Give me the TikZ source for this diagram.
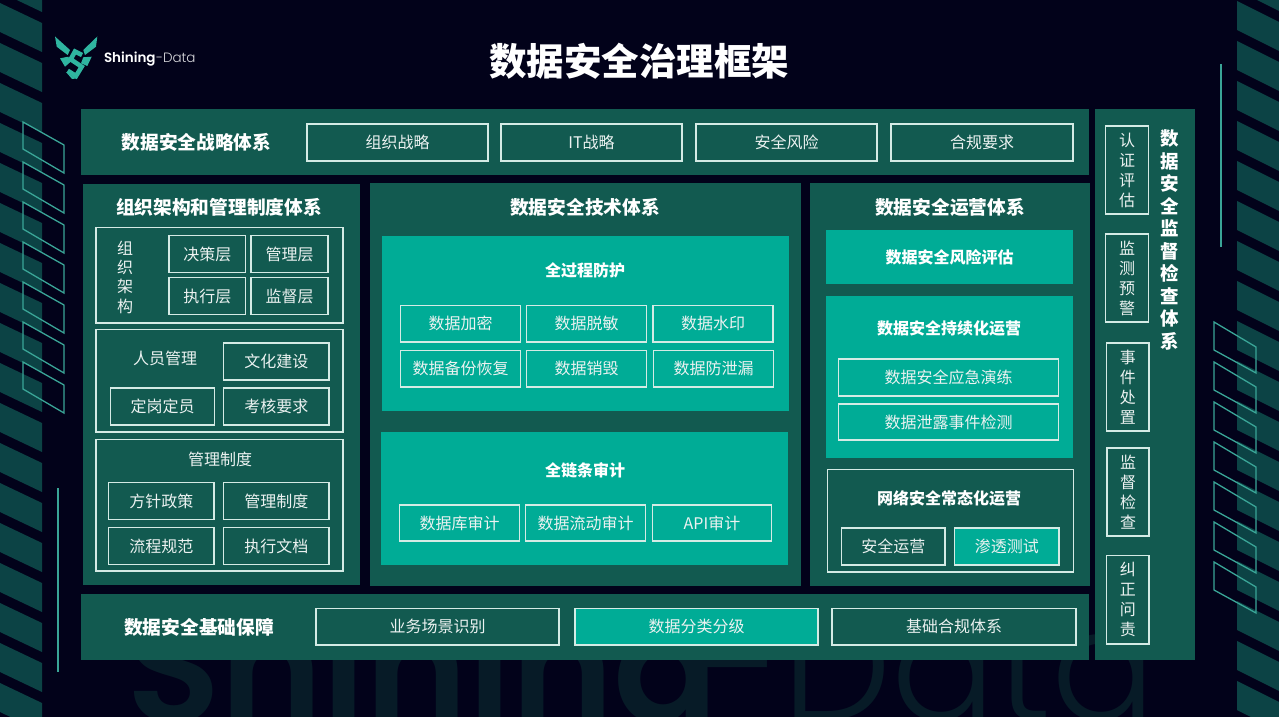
\documentclass[tikz,border=0pt]{standalone}
\usepackage{fontspec}
\setmainfont{Noto Sans CJK SC}
\newfontfamily\popfont{Poppins Light}
\newfontfamily\popsemi{Poppins SemiBold}
\definecolor{bgc}{HTML}{02021A}
\definecolor{panelc}{HTML}{125A50}
\definecolor{tealc}{HTML}{00AC96}
\definecolor{stripec}{HTML}{0C4345}
\definecolor{linec}{HTML}{3AA597}
\definecolor{edgec}{HTML}{D4EBE5}
\definecolor{markc}{HTML}{071B27}
\definecolor{logoc}{HTML}{2FB5A0}
\tikzset{
  x=1pt,y=-1pt,
  every node/.style={inner sep=0pt,outer sep=0pt,text=white},
  basebox/.style={anchor=north west,align=center},
  panel/.style={basebox,fill=panelc},
  tealpanel/.style={basebox,fill=tealc},
  outlined/.style={basebox,draw=edgec,line width=1.2pt},
  tealbox/.style={basebox,draw=edgec,line width=1.2pt,fill=tealc},
  lbl/.style={font=\fontsize{16}{20}\selectfont,text=white!92!panelc},
  ttl/.style={font=\fontsize{18.7}{23}\selectfont\bfseries},
  sub/.style={font=\fontsize{16}{20}\selectfont\bfseries},
  stripe/.style={fill=stripec},
  frameline/.style={draw=linec,line width=1.3pt},
  accent/.style={draw=linec,line width=1.6pt},
  logopart/.style={fill=logoc},
}
% name, style, x0, y0, x1, y1, text
\newcommand\bx[7]{\node[#2,minimum width=\dimexpr #5pt-#3pt\relax,minimum height=\dimexpr #6pt-#4pt\relax] (#1) at (#3,#4) {#7};}
\begin{document}
\begin{tikzpicture}
\useasboundingbox (0,0) rectangle (1279,717);
\fill[bgc] (0,0) rectangle (1279,717);
\begin{scope}
\clip (0,0) rectangle (1279,717);
% side stripes
\foreach \k in {-1,...,18}{
  \pgfmathsetmacro\yy{\k*40+3}
  \fill[stripe] (0,\yy) -- (42,\yy+20) -- (42,\yy+49) -- (0,\yy+29) -- cycle;
  \pgfmathsetmacro\zz{\k*40+1}
  \fill[stripe] (1237,\zz) -- (1279,\zz+21) -- (1279,\zz+50) -- (1237,\zz+29) -- cycle;
}
% outlined parallelograms
\foreach \k in {0,...,6}{
  \pgfmathsetmacro\yy{\k*40+122}
  \draw[frameline] (23,\yy) -- (64,\yy+23) -- (64,\yy+51) -- (23,\yy+27) -- cycle;
  \pgfmathsetmacro\zz{\k*40+322}
  \draw[frameline] (1214,\zz) -- (1256,\zz+25) -- (1256,\zz+51) -- (1214,\zz+28) -- cycle;
}
% watermark
\node[anchor=base west,text=markc,font=\fontsize{155}{155}\selectfont\popsemi] (mark) at (126,722) {Shining};
\node[anchor=base west,text=markc,font=\fontsize{155}{155}\selectfont\popfont] (markb) at (702,720) {-Data};
\end{scope}
\coordinate (la) at (58,488); \coordinate (lb) at (58,672);
\draw[accent] (la) -- (lb);
\coordinate (ra) at (1221,64); \coordinate (rb) at (1221,247);
\draw[accent] (ra) -- (rb);
% logo
\fill[logopart] (55,36.5) -- (70,50) -- (67.7,55) -- (56.7,46.7) -- cycle;
\fill[logopart] (97.3,36.5) -- (96,46.7) -- (85,55) -- (83.3,50) -- cycle;
\fill[logopart] (60,58.3) -- (68.3,56.7) -- (70.7,61.7) -- (65,66.7) -- cycle;
\fill[logopart] (91.7,56.7) -- (83.3,57.3) -- (81,63.3) -- (87.3,66) -- cycle;
\draw[logoc,line width=4.6pt,line join=miter] (82,55) -- (75,51.5) -- (70.7,59.3) -- (81.7,66.7) -- (76,76) -- (67.7,70.7);
\fill[logopart] (66,72) -- (76,78.5) -- (72,79) -- cycle;
\node[anchor=base west,font=\fontsize{13.5}{15}\selectfont\popsemi] (logotext) at (104,63) {Shining};
\node[anchor=base west,font=\fontsize{13.5}{15}\selectfont\popfont,text=white!85!bgc] (logotextb) at (156,63) {-Data};
% title
\node[font=\fontsize{37.5}{42}\selectfont\bfseries] (title) at (639,61) {数据安全治理框架};
% panels
\bx{ptop}{panel}{81}{109}{1089}{175}{}
\bx{pmon}{panel}{1095}{109}{1195}{660}{}
\bx{porg}{panel}{83}{184}{360}{585}{}
\bx{ptech}{panel}{370}{183}{801}{586}{}
\bx{pops}{panel}{810}{183}{1090}{586}{}
\bx{pbase}{panel}{81}{594}{1089}{660}{}
% top row
\node[ttl] (ttop) at (196.5,142) {数据安全战略体系};
\bx{t1}{outlined,lbl}{307}{124}{488}{161}{组织战略}
\bx{t2}{outlined,lbl}{501}{124}{682}{161}{IT战略}
\bx{t3}{outlined,lbl}{696}{124}{877}{161}{安全风险}
\bx{t4}{outlined,lbl}{891}{124}{1073}{161}{合规要求}
% org
\node[ttl] (torg) at (219,207.5) {组织架构和管理制度体系};
\bx{g1}{outlined}{96}{227.5}{343}{323}{}
\node[lbl,align=center,text width=16pt,font=\fontsize{16}{19.3}\selectfont] (g1t) at (125,277) {组\\织\\架\\构};
\bx{a1}{outlined,lbl}{169}{235.5}{245.5}{272.5}{决策层}
\bx{a2}{outlined,lbl}{251}{235.5}{328}{272.5}{管理层}
\bx{a3}{outlined,lbl}{169}{277.5}{245.5}{314.5}{执行层}
\bx{a4}{outlined,lbl}{251}{277.5}{328}{314.5}{监督层}
\bx{g2}{outlined}{96}{329.5}{343}{432}{}
\node[lbl] (g2t) at (165,358) {人员管理};
\bx{b1}{outlined,lbl}{223.5}{343}{329}{380}{文化建设}
\bx{b2}{outlined,lbl}{110.5}{388}{214.5}{425}{定岗定员}
\bx{b3}{outlined,lbl}{223.5}{388}{329}{425}{考核要求}
\bx{g3}{outlined}{96}{439.5}{343}{571}{}
\node[lbl] (g3t) at (220,459) {管理制度};
\bx{c1}{outlined,lbl}{108.5}{482.5}{214}{519.5}{方针政策}
\bx{c2}{outlined,lbl}{223.5}{482.5}{329}{519.5}{管理制度}
\bx{c3}{outlined,lbl}{108.5}{527.5}{214}{564.5}{流程规范}
\bx{c4}{outlined,lbl}{223.5}{527.5}{329}{564.5}{执行文档}
% tech
\node[ttl] (ttech) at (585,207.5) {数据安全技术体系};
\bx{d0}{tealpanel}{382}{236}{789}{411}{}
\node[sub] (d0t) at (585,270) {全过程防护};
\bx{d1}{outlined,lbl}{400.5}{305.5}{520.5}{342}{数据加密}
\bx{d2}{outlined,lbl}{526.5}{305.5}{646.5}{342}{数据脱敏}
\bx{d3}{outlined,lbl}{653}{305.5}{773}{342}{数据水印}
\bx{d4}{outlined,lbl}{400.5}{350.5}{520.5}{387}{数据备份恢复}
\bx{d5}{outlined,lbl}{526.5}{350.5}{646.5}{387}{数据销毁}
\bx{d6}{outlined,lbl}{653.5}{350.5}{773.5}{387}{数据防泄漏}
\bx{e0}{tealpanel}{381}{432}{788}{565}{}
\node[sub] (e0t) at (585,470) {全链条审计};
\bx{e1}{outlined,lbl}{399.5}{505}{519.5}{541}{数据库审计}
\bx{e2}{outlined,lbl}{525.5}{505}{645.5}{541}{数据流动审计}
\bx{e3}{outlined,lbl}{652.5}{505}{771.5}{541}{API审计}
% ops
\node[ttl] (tops) at (950,207.5) {数据安全运营体系};
\bx{f0}{tealpanel,sub}{826}{230}{1073}{284}{数据安全风险评估}
\bx{f1}{tealpanel}{826}{296}{1073}{458}{}
\node[sub] (f1t) at (949,328) {数据安全持续化运营};
\bx{f2}{outlined,lbl}{838.5}{359}{1058.5}{396}{数据安全应急演练}
\bx{f3}{outlined,lbl}{838.5}{404}{1058.5}{440}{数据泄露事件检测}
\bx{f4}{outlined}{827.5}{469.5}{1073.5}{572}{}
\node[sub] (f4t) at (949,498) {网络安全常态化运营};
\bx{f5}{outlined,lbl}{841.5}{528}{945}{565}{安全运营}
\bx{f6}{tealbox,lbl}{954.5}{528}{1059}{565}{渗透测试}
% base
\node[ttl] (tbase) at (199,627) {数据安全基础保障};
\bx{h1}{outlined,lbl}{316}{608.5}{559}{645}{业务场景识别}
\bx{h2}{tealbox,lbl}{575}{608.5}{818}{645}{数据分类分级}
\bx{h3}{outlined,lbl}{832}{608.5}{1076}{645}{基础合规体系}
% monitor
\node[align=center,text width=20pt,font=\fontsize{18.5}{22.5}\selectfont\bfseries] (tmon) at (1170,240) {数\\据\\安\\全\\监\\督\\检\\查\\体\\系};
\tikzset{vtext/.style={outlined,lbl,font=\fontsize{16}{20}\selectfont}}
\bx{m1}{vtext}{1105.5}{126}{1148.5}{214}{认\\证\\评\\估}
\bx{m2}{vtext}{1105.5}{234}{1148.5}{322}{监\\测\\预\\警}
\bx{m3}{vtext}{1106.5}{343}{1149}{431}{事\\件\\处\\置}
\bx{m4}{vtext}{1107}{448}{1149}{536}{监\\督\\检\\查}
\bx{m5}{vtext}{1106.5}{555.5}{1149}{644}{纠\\正\\问\\责}
\end{tikzpicture}
\end{document}
